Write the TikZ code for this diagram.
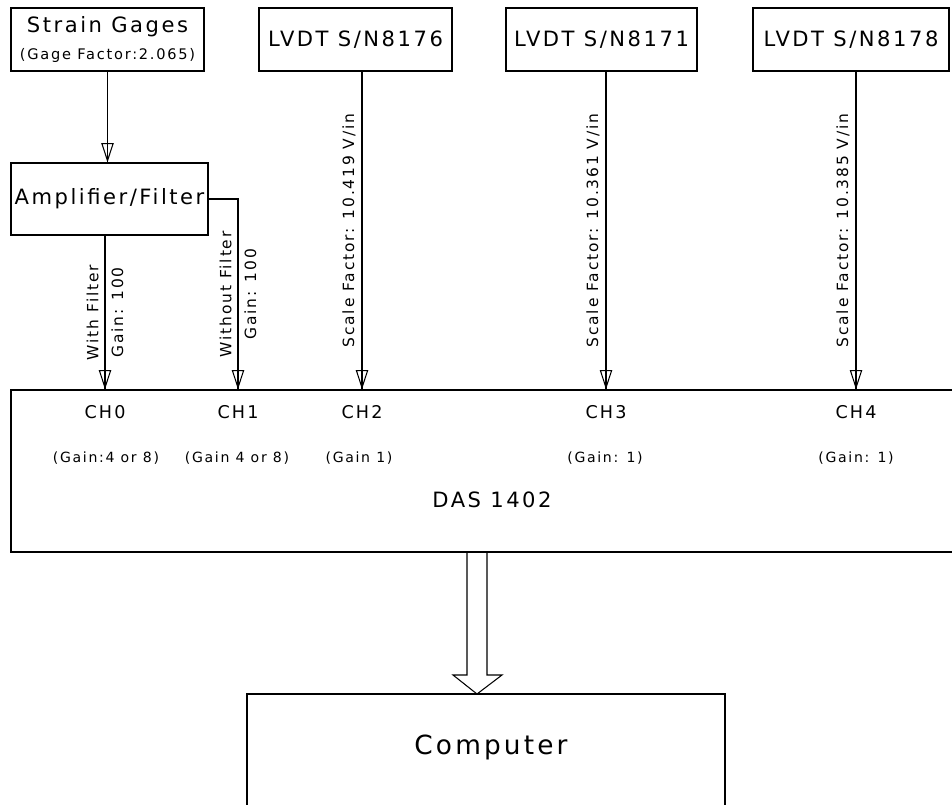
\documentclass[tikz,border=0pt]{standalone}
\usepackage{fontspec}
\setmainfont{DejaVu Sans}[LetterSpace=12]
\usetikzlibrary{arrows.meta,positioning,calc}
\newcommand{\pxu}{0.02cm}
\tikzset{
  >=Stealth,
  box/.style={rectangle, draw, line width=0.6pt, inner sep=0pt, font=\fontsize{12}{14}\selectfont},
  chan/.style={font=\fontsize{10}{12}\selectfont},
  gain/.style={font=\fontsize{8}{10}\selectfont},
  sig/.style={line width=0.6pt, -{Triangle[open,length=11pt,width=7pt]},
    postaction={draw, arrows=-}},
  lbl/.style={font=\fontsize{8.8}{10}\selectfont, rotate=90}
}

\begin{document}
\begin{tikzpicture}[x=\pxu, y=-\pxu]
    \clip (0,0) rectangle (952,804);
    \fill[white] (0,0) rectangle (952,804);

    % Sensors
    \node[box, minimum width=193*\pxu, minimum height=63*\pxu, align=center] (sg) at (107.5,39.5)
        {Strain Gages\\[1pt]{\fontsize{8.3}{10}\selectfont (Gage Factor:2.065)}};
    \node[box, minimum width=193*\pxu, minimum height=63*\pxu] (lvdtA) at (355.5,39.5) {LVDT S/N8176};
    \node[box, minimum width=191*\pxu, minimum height=63*\pxu] (lvdtB) at (601.5,39.5) {LVDT S/N8171};
    \node[box, minimum width=196*\pxu, minimum height=63*\pxu] (lvdtC) at (851,39.5) {LVDT S/N8178};

    % Amplifier
    \node[box, minimum width=197*\pxu, minimum height=72*\pxu] (amp) at (109.5,199) {Amplifier/Filter};

    % DAS board
    \node[box, minimum width=980*\pxu, minimum height=162*\pxu] (das) at (501,471) {};
    \node[chan] (ch0) at (105,412) {CH0};
    \node[chan] (ch1) at (238,412) {CH1};
    \node[chan] (ch2) at (362,412) {CH2};
    \node[chan] (ch3) at (606,412) {CH3};
    \node[chan] (ch4) at (856,412) {CH4};
    \node[gain] (g0) at (106,458) {(Gain:4 or 8)};
    \node[gain] (g1) at (237,458) {(Gain 4 or 8)};
    \node[gain] (g2) at (359,458) {(Gain 1)};
    \node[gain] (g3) at (605,458) {(Gain: 1)};
    \node[gain] (g4) at (856,458) {(Gain: 1)};
    \node[font=\fontsize{12}{14}\selectfont] (dasname) at (492,500) {DAS 1402};

    % Computer
    \node[box, minimum width=478*\pxu, minimum height=140*\pxu] (comp) at (486,764) {};
    \node[font=\fontsize{15}{18}\selectfont] (comptxt) at (491,747) {Computer};

    % Signal lines
    \draw[sig] (sg.south) -- (sg.south |- amp.north);
    \draw[sig] (amp.south -| ch0) -- (das.north -| ch0)
        node[lbl, midway, above] {With Filter}
        node[lbl, midway, below] {Gain: 100};
    \draw[sig] (amp.east) -| (das.north -| ch1)
        node[lbl, pos=0.75, above] {Without Filter}
        node[lbl, pos=0.75, below] {Gain: 100};
    \draw[sig] (lvdtA.south -| ch2) -- (das.north -| ch2)
        node[lbl, midway, above] {Scale Factor: 10.419 V/in};
    \draw[sig] (lvdtB.south -| ch3) -- (das.north -| ch3)
        node[lbl, midway, above] {Scale Factor: 10.361 V/in};
    \draw[sig] (lvdtC.south -| ch4) -- (das.north -| ch4)
        node[lbl, midway, above] {Scale Factor: 10.385 V/in};

    % Data bus to computer
    \draw[line width=0.6pt] (467,552) -- (467,675) -- (453,675) -- (477,694)
        -- (502,675) -- (487,675) -- (487,552);

\end{tikzpicture}
\end{document}
